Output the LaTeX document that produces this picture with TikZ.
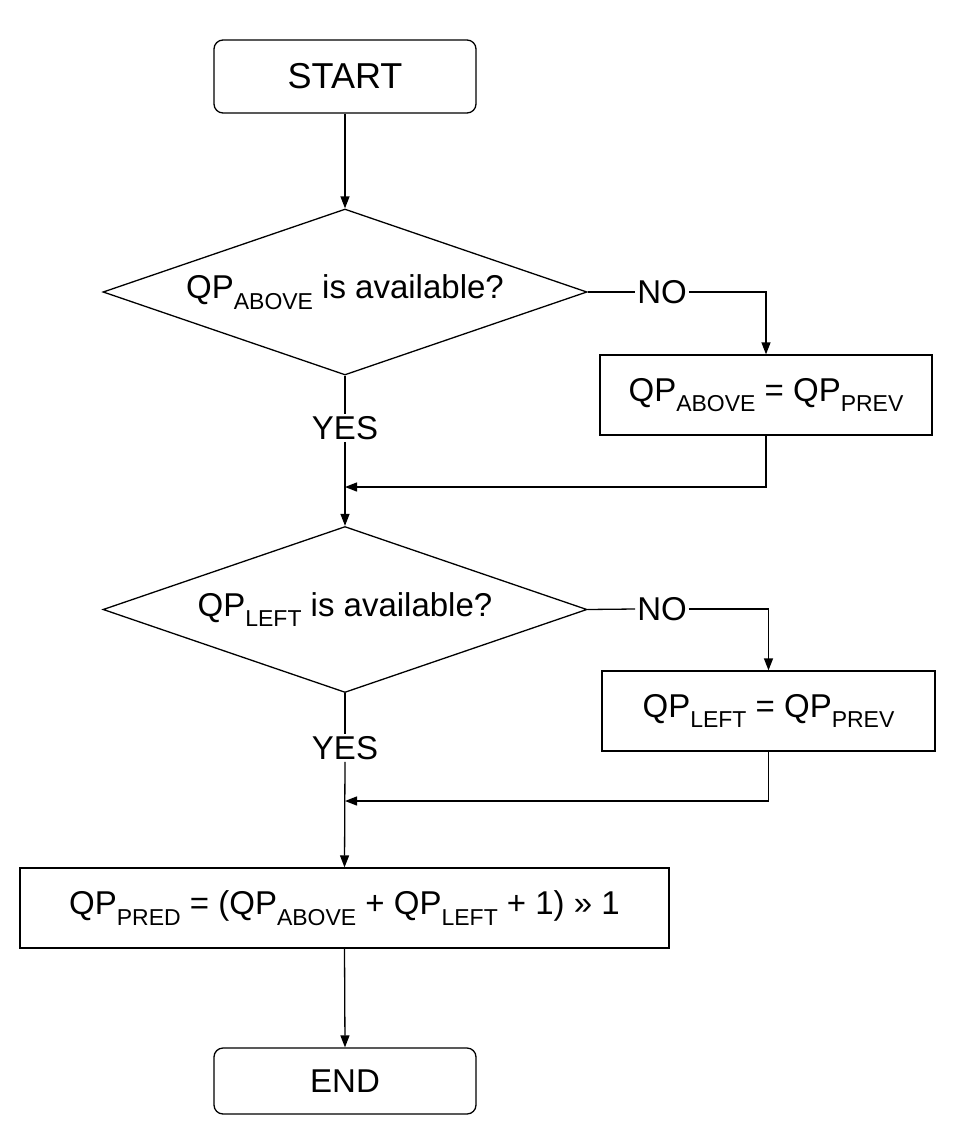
\documentclass[tikz,border=0pt]{standalone}
\usepackage{fontspec}
\setmainfont{Liberation Sans}
\usetikzlibrary{shapes.geometric,arrows.meta}
\newcommand{\lowsub}[1]{\raisebox{-0.32em}{\fontsize{23}{23}\selectfont #1}}
\begin{document}
\begin{tikzpicture}[x=1pt,y=-1pt,
  every node/.style={font=\fontsize{33}{38}\selectfont},
  term/.style={draw,rounded corners=9pt,line width=1.3pt,minimum width=262pt,inner sep=0pt},
  box/.style={draw,line width=1.3pt,inner sep=0pt,minimum height=80pt},
  dec/.style={draw,diamond,line width=1.3pt,inner sep=0pt,minimum width=484pt,minimum height=166pt,shape aspect=2.92},
  lbl/.style={inner sep=2pt},
  ar/.style={line width=1.3pt,-{Triangle[length=12pt,width=9pt]}},
  ln/.style={line width=1.3pt}]
\useasboundingbox (0,0) rectangle (955,1146);
\node[term,minimum height=73pt,font=\fontsize{36}{40}\selectfont] (start) at (345,76.5) {START};
\node[dec] (d1) at (345,292) {};
\node at (345,292) {QP\lowsub{ABOVE} is available?};
\node[lbl] (no1) at (662,292) {NO};
\node[box,minimum width=332pt] (b1) at (766,395) {QP\lowsub{ABOVE} = QP\lowsub{PREV}};
\node[lbl,fill=white] (yes1) at (345,428) {YES};
\node[dec] (d2) at (345,609.5) {};
\node at (345,609.5) {QP\lowsub{LEFT} is available?};
\node[lbl] (no2) at (662,609) {NO};
\node[box,minimum width=333pt] (b2) at (768.5,711) {QP\lowsub{LEFT} = QP\lowsub{PREV}};
\node[lbl,fill=white] (yes2) at (345,748) {YES};
\node[box,minimum width=649pt] (b3) at (344.5,908) {QP\lowsub{PRED} = (QP\lowsub{ABOVE} + QP\lowsub{LEFT} + 1) >> 1};
\node[term,minimum height=66pt] (end) at (345,1081) {END};
\coordinate (m1) at (345,487);
\coordinate (m2) at (345,801);
\draw[ar] (start) -- (d1.north);
\draw[ln] (d1.east) -- (no1.west);
\draw[ar] (no1.east) -| (b1.north);
\draw[ln] (d1.south) -- (yes1.north);
\draw[ar] (yes1.south) -- (d2.north);
\draw[ar] (b1.south) |- (m1);
\draw[ln] (d2.east) -- (no2.west);
\draw[ar] (no2.east) -| (b2.north);
\draw[ln] (d2.south) -- (yes2.north);
\draw[ar] (yes2.south) -- (b3.north);
\draw[ar] (b2.south) |- (m2);
\draw[ar] (b3.south) -- (end.north);
\end{tikzpicture}
\end{document}
